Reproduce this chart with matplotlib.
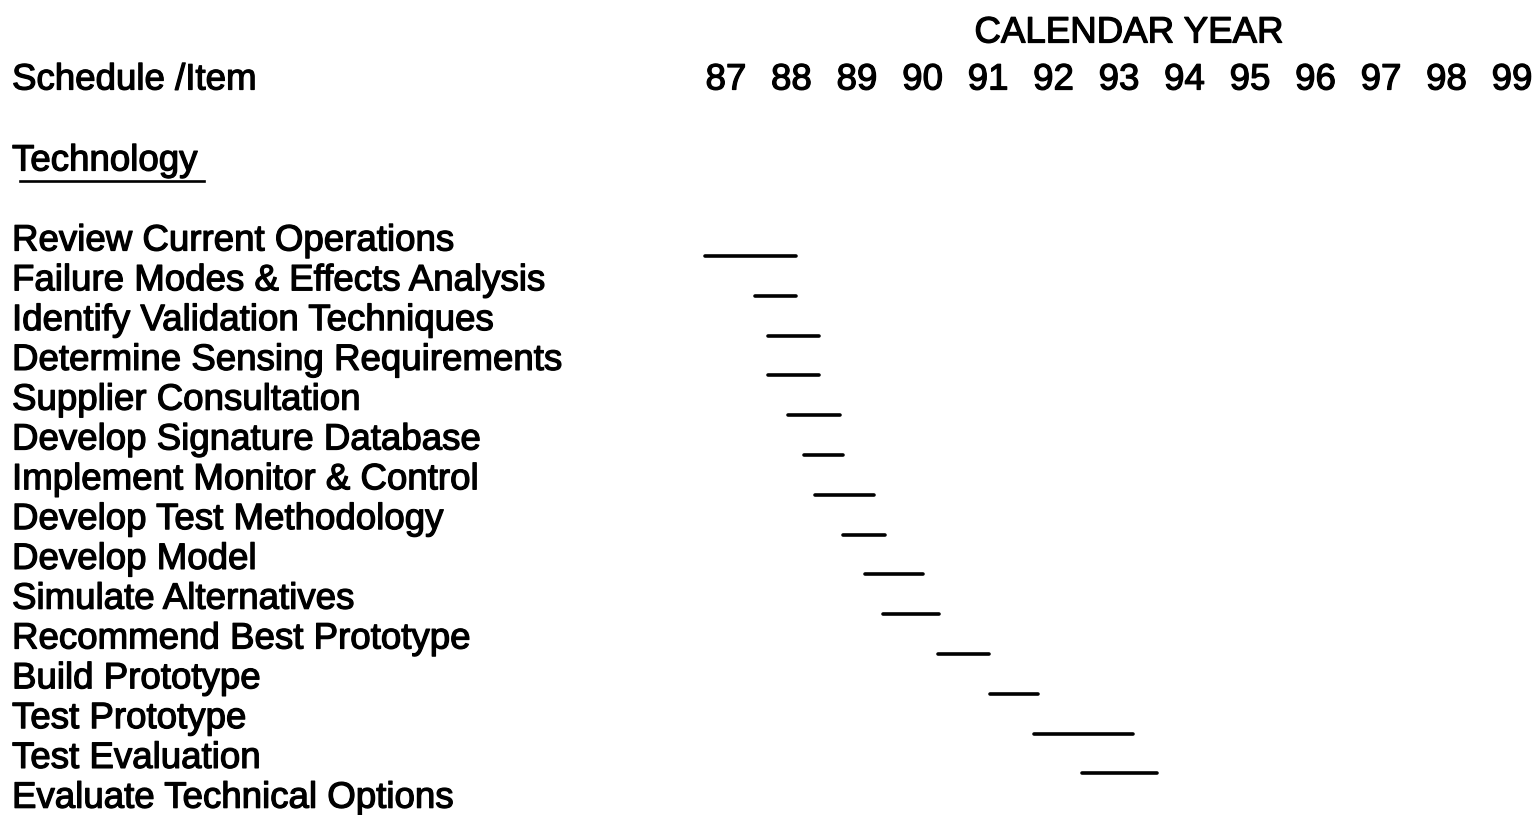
import matplotlib.pyplot as plt
import matplotlib.transforms as mtransforms
import matplotlib.patheffects as pe

plt.rcParams['font.family'] = ['Liberation Sans', 'DejaVu Sans']

years = [87, 88, 89, 90, 91, 92, 93, 94, 95, 96, 97, 98, 99]

items = [
    "Review Current Operations",
    "Failure Modes & Effects Analysis",
    "Identify Validation Techniques",
    "Determine Sensing Requirements",
    "Supplier Consultation",
    "Develop Signature Database",
    "Implement Monitor & Control",
    "Develop Test Methodology",
    "Develop Model",
    "Simulate Alternatives",
    "Recommend Best Prototype",
    "Build Prototype",
    "Test Prototype",
    "Test Evaluation",
    "Evaluate Technical Options",
]

# start / end of each bar, in calendar years (None = no bar drawn)
start = [86.68, 87.44, 87.64, 87.64, 87.95, 88.19, 88.36, 88.79,
         89.12, 89.40, 90.24, 91.03, 91.70, 92.44, None]
end = [88.07, 88.07, 88.42, 88.42, 88.74, 88.79, 89.26, 89.43,
       90.01, 90.25, 91.02, 91.76, 93.21, 93.58, None]

W, H = 1537, 815
fig = plt.figure(figsize=(W / 100, H / 100), dpi=100)
ax = fig.add_axes([0, 0, 1, 1])
ax.axis('off')

# 87 sits at x=726px, 65.5 px per year; row 0 at y=238px, 39.8 px per row
px_year = 65.5
ax.set_xlim(87 - 726 / px_year, 87 + (W - 726) / px_year)
row_h = 39.8
ax.set_ylim((H - 238) / row_h, -238 / row_h)

fs = 26.4
bold = [pe.withStroke(linewidth=0.9, foreground='black')]
txt_kw = dict(fontsize=fs, va='center', path_effects=bold)
dy = 3 / row_h  # text sits a touch lower than the row centre
left = mtransforms.blended_transform_factory(ax.transAxes, ax.transData)

for i, name in enumerate(items):
    ax.text(12 / W, i + dy, name, transform=left, ha='left', **txt_kw)
    if start[i] is not None:
        ax.plot([start[i], end[i]], [i + 0.45, i + 0.45],
                color='black', lw=2.6, solid_capstyle='round')

hdr_y = (77 - 238) / row_h + dy
ax.text(12 / W, hdr_y, "Schedule /Item", transform=left, ha='left', **txt_kw)
for y in years:
    ax.text(y, hdr_y, str(y), ha='center', **txt_kw)
ax.text(93.15, (30 - 238) / row_h + dy, "CALENDAR YEAR", ha='center', **txt_kw)

tech_y = (158 - 238) / row_h + dy
ax.text(12 / W, tech_y, "Technology", transform=left, ha='left', **txt_kw)
ax.plot([20 / W, 204 / W], [(181 - 238) / row_h] * 2, transform=left,
        color='black', lw=1.9)

fig.savefig('out.png', dpi=100)
